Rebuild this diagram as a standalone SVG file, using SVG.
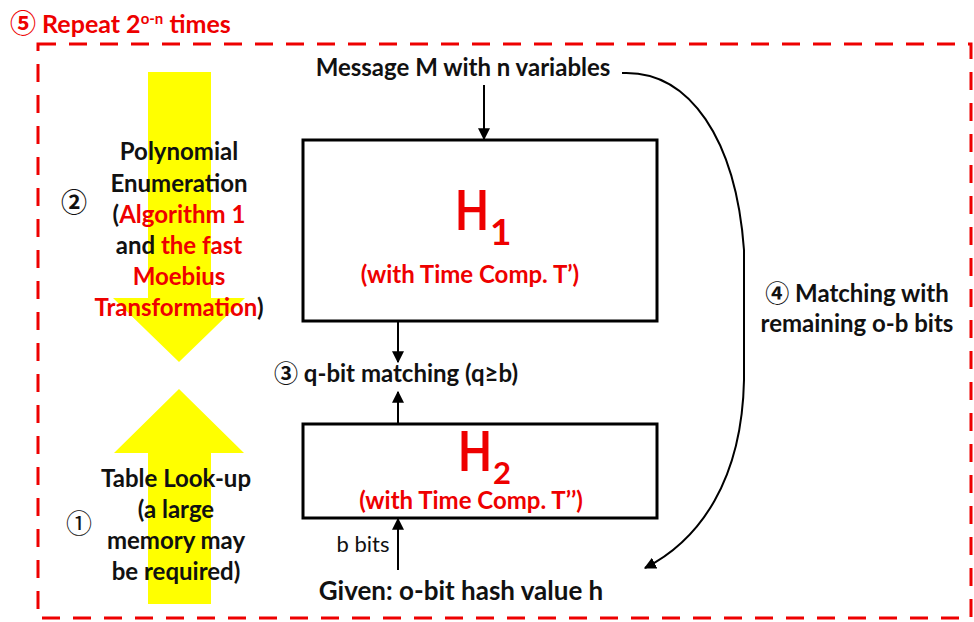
<svg xmlns="http://www.w3.org/2000/svg" width="974" height="622" viewBox="0 0 974 622">
  <style>
    text { font-family: Lato, "Open Sans", "Liberation Sans", sans-serif; font-weight: bold; fill: #111; }
    .red { fill: #ee0000; }
    .circ { font-family: "Noto Sans CJK JP", "DejaVu Sans", sans-serif; font-weight: bold; }
    .plain { font-weight: normal; }
    .box { fill: #fff; stroke: #000; stroke-width: 3; }
    .wire { fill: none; stroke: #000; stroke-width: 2; }
    .lbl { font-size: 24px; }
    .mid { text-anchor: middle; }
  </style>
  <defs>
    <marker id="arr" viewBox="0 0 10 10" refX="9" refY="5" markerWidth="6" markerHeight="6" orient="auto-start-reverse">
      <path d="M0,0 L10,5 L0,10 z" fill="#000"/>
    </marker>
  </defs>

  <!-- repeat frame -->
  <g id="repeat">
    <rect x="38" y="44" width="933" height="574" fill="none" stroke="#ee0000" stroke-width="3" stroke-dasharray="18 13"/>
    <text x="10" y="33" class="red" font-size="25"><tspan class="circ red" font-size="26">⑤</tspan> Repeat 2<tspan font-size="15" dy="-9">o-n</tspan><tspan dy="9"> times</tspan></text>
  </g>

  <!-- yellow direction arrows -->
  <g id="enum-arrow">
    <polygon points="148,72 211,72 211,298 245,298 179,362 113,298 148,298" fill="#ffff00"/>
  </g>
  <g id="lookup-arrow">
    <polygon points="148,604 211,604 211,453 244,453 179,389 114,453 148,453" fill="#ffff00"/>
  </g>

  <!-- step 2 text -->
  <g id="step2">
    <text x="74" y="212" class="circ mid" font-size="26">②</text>
    <text x="179" y="160" class="lbl mid">Polynomial</text>
    <text x="179" y="192" class="lbl mid">Enumeration</text>
    <text x="179" y="223" class="lbl mid">(<tspan class="red">Algorithm 1</tspan></text>
    <text x="179" y="254" class="lbl mid">and <tspan class="red">the fast</tspan></text>
    <text x="179" y="285" class="lbl mid red">Moebius</text>
    <text x="179" y="316" class="lbl mid"><tspan class="red">Transformation</tspan>)</text>
  </g>

  <!-- step 1 text -->
  <g id="step1">
    <text x="79" y="533" class="circ plain mid" font-size="26">①</text>
    <text x="176" y="487" class="lbl mid">Table Look-up</text>
    <text x="176" y="518" class="lbl mid">(a large</text>
    <text x="176" y="549" class="lbl mid">memory may</text>
    <text x="176" y="580" class="lbl mid">be required)</text>
  </g>

  <!-- message input -->
  <g id="message">
    <text x="463" y="76" class="lbl mid">Message M with n variables</text>
  </g>

  <!-- H1 -->
  <g id="h1">
    <rect x="303" y="140" width="354" height="181" class="box"/>
    <text x="455" y="230" class="red"><tspan font-size="55" textLength="34" lengthAdjust="spacingAndGlyphs">H</tspan><tspan font-size="37" dx="1" dy="15">1</tspan></text>
    <text x="470" y="283" class="lbl red mid">(with Time Comp. T’)</text>
  </g>

  <!-- matching -->
  <g id="step3">
    <text x="274" y="382" class="lbl"><tspan class="circ">③</tspan> q-bit matching (q≥b)</text>
  </g>

  <!-- H2 -->
  <g id="h2">
    <rect x="303" y="424" width="354" height="94" class="box"/>
    <text x="458" y="471" class="red"><tspan font-size="55" textLength="34" lengthAdjust="spacingAndGlyphs">H</tspan><tspan font-size="31" dx="1" dy="13">2</tspan></text>
    <text x="471" y="509" class="lbl red mid">(with Time Comp. T’’)</text>
  </g>

  <!-- hash value -->
  <g id="hash">
    <text x="461" y="600" class="mid" font-size="26">Given: o-bit hash value h</text>
  </g>

  <!-- step 4 -->
  <g id="step4">
    <text x="857" y="302" class="lbl mid"><tspan class="circ">④</tspan> Matching with</text>
    <text x="857" y="332" class="lbl mid">remaining o-b bits</text>
  </g>

  <!-- connectors -->
  <g id="connectors">
    <line x1="484" y1="85" x2="484" y2="139" class="wire" marker-end="url(#arr)"/>
    <line x1="398" y1="321" x2="398" y2="362" class="wire" marker-end="url(#arr)"/>
    <line x1="398" y1="424" x2="398" y2="392" class="wire" marker-end="url(#arr)"/>
    <line x1="398" y1="570" x2="398" y2="519" class="wire" marker-end="url(#arr)"/>
    <text x="363" y="552" class="plain" text-anchor="middle" font-size="22">b bits</text>
    <path d="M622,73 C690,70 736,140 744,250 L744,380 C742,480 700,540 645,568" class="wire" marker-end="url(#arr)"/>
  </g>
</svg>
